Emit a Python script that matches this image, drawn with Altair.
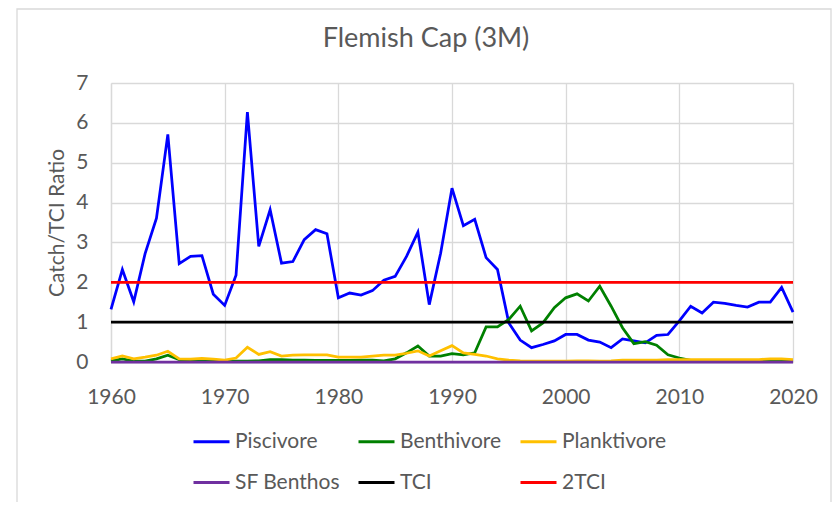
import altair as alt
import pandas as pd

years = list(range(1960, 2021))

piscivore = [
    1.32, 2.32, 1.51, 2.72, 3.61, 5.71, 2.47, 2.65, 2.67, 1.70,
    1.42, 2.18, 6.27, 2.90, 3.82, 2.48, 2.52, 3.07, 3.32, 3.22,
    1.61, 1.73, 1.68, 1.79, 2.05, 2.15, 2.65, 3.26, 1.44, 2.73,
    4.36, 3.42, 3.58, 2.62, 2.32, 0.98, 0.55, 0.36, 0.44, 0.53,
    0.69, 0.69, 0.55, 0.50, 0.36, 0.58, 0.53, 0.48, 0.67, 0.69,
    1.03, 1.40, 1.23, 1.50, 1.47, 1.42, 1.38, 1.50, 1.50, 1.87, 1.25,
]
benthivore = [
    0.03, 0.08, 0.02, 0.02, 0.08, 0.17, 0.06, 0.02, 0.02, 0.02,
    0.02, 0.02, 0.02, 0.03, 0.06, 0.06, 0.05, 0.05, 0.04, 0.04,
    0.04, 0.04, 0.05, 0.05, 0.03, 0.08, 0.23, 0.40, 0.15, 0.15,
    0.21, 0.18, 0.23, 0.88, 0.88, 1.07, 1.40, 0.78, 0.98, 1.36,
    1.61, 1.71, 1.53, 1.90, 1.40, 0.86, 0.46, 0.51, 0.42, 0.18,
    0.10, 0.04, 0.03, 0.03, 0.03, 0.03, 0.03, 0.03, 0.03, 0.03, 0.03,
]
planktivore = [
    0.08, 0.15, 0.08, 0.12, 0.17, 0.27, 0.08, 0.07, 0.09, 0.07,
    0.05, 0.10, 0.37, 0.19, 0.26, 0.15, 0.17, 0.18, 0.18, 0.18,
    0.12, 0.12, 0.12, 0.15, 0.17, 0.17, 0.22, 0.28, 0.15, 0.28,
    0.41, 0.23, 0.19, 0.15, 0.08, 0.05, 0.03, 0.02, 0.02, 0.02,
    0.02, 0.03, 0.03, 0.02, 0.03, 0.05, 0.05, 0.05, 0.05, 0.06,
    0.06, 0.06, 0.06, 0.06, 0.06, 0.06, 0.06, 0.06, 0.08, 0.08, 0.06,
]
sf_benthos = [0.0] * 61
tci = [1.0] * 61
two_tci = [2.0] * 61

series_names = ["Piscivore", "Benthivore", "Planktivore", "SF Benthos", "TCI", "2TCI"]
series_colors = ["#0000FF", "#008000", "#FFC000", "#7030A0", "#000000", "#FF0000"]
series_values = [piscivore, benthivore, planktivore, sf_benthos, tci, two_tci]

rows = []
for name, vals in zip(series_names, series_values):
    for yr, v in zip(years, vals):
        rows.append({"Year": yr, "Series": name, "Value": v})
df = pd.DataFrame(rows)

FONT = "Lato"
GREY = "#595959"
GRID = "#d9d9d9"

color = alt.Color(
    "Series:N",
    scale=alt.Scale(domain=series_names, range=series_colors),
    legend=alt.Legend(
        title=None, orient="none", legendX=81, legendY=339, direction="horizontal",
        columns=3, symbolType="stroke", symbolSize=1296, symbolStrokeWidth=3,
        labelFont=FONT, labelFontSize=21, labelColor=GREY, labelOffset=4,
        columnPadding=12, rowPadding=11, padding=0, labelLimit=300,
    ),
)

x = alt.X(
    "Year:Q",
    scale=alt.Scale(domain=[1960, 2020], nice=False, zero=False),
    axis=alt.Axis(
        values=[1960, 1970, 1980, 1990, 2000, 2010, 2020], format="d", title=None,
        grid=True, gridColor=GRID, gridWidth=1.3, ticks=False,
        domainColor=GRID, domainWidth=1.3, labelFont=FONT, labelFontSize=21,
        labelColor=GREY, labelPadding=24, labelFlush=False,
    ),
)
y = alt.Y(
    "Value:Q",
    scale=alt.Scale(domain=[0, 7], nice=False),
    axis=alt.Axis(
        values=[0, 1, 2, 3, 4, 5, 6, 7], title="Catch/TCI Ratio",
        titleFont=FONT, titleFontSize=21, titleFontWeight="normal", titleColor=GREY,
        titlePadding=8, grid=True, gridColor=GRID, gridWidth=1.3, ticks=False,
        domainColor=GRID, domainWidth=1.3, labelFont=FONT, labelFontSize=21,
        labelColor=GREY, labelPadding=23,
    ),
)

frame = alt.Chart(pd.DataFrame({"k": [0]})).mark_rect(
    fill=None, stroke=GRID, strokeWidth=1.3
).encode(
    x=alt.value(-94), x2=alt.value(720), y=alt.value(-74), y2=alt.value(440)
)

layers = [frame]
for name in series_names:
    layers.append(
        alt.Chart(df).transform_filter(alt.datum.Series == name)
        .mark_line(strokeWidth=2.75)
        .encode(x=x, y=y, color=color, order=alt.Order("Year:Q"))
    )

chart = alt.layer(*layers).properties(
    width=682, height=279,
    title=alt.TitleParams(
        "Flemish Cap (3M)", font=FONT, fontSize=27, fontWeight="normal",
        color=GREY, anchor="middle", dx=-26, offset=0, dy=45,
    ),
    autosize=alt.AutoSizeParams(type="none"),
    padding={"left": 103, "top": 75, "right": 39, "bottom": 140},
).configure_view(stroke=None)

chart.save("out.html", embed_options={"renderer": "svg", "actions": False})
